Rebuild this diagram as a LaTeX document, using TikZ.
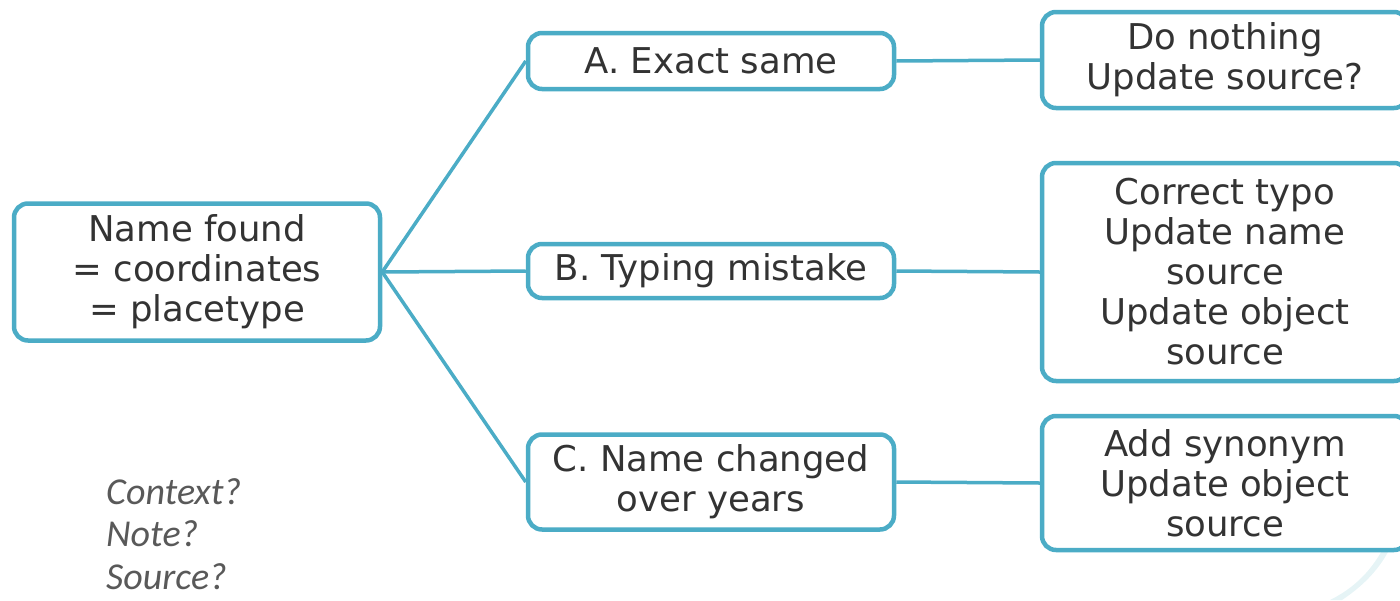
\documentclass[tikz,border=0pt]{standalone}
\usepackage{fontspec}
\setmainfont{DejaVu Sans}
\newfontfamily\notefont{Carlito}
\definecolor{boxblue}{HTML}{4BACC6}
\definecolor{txtgray}{HTML}{333333}
\definecolor{notegray}{HTML}{595959}
\definecolor{swoosh}{HTML}{E6F4F6}
\begin{document}
\begin{tikzpicture}[x=1pt,y=-1pt,
  box/.style={draw=boxblue, line width=4.5pt, rounded corners=14pt, fill=white,
    text=txtgray, align=center, inner sep=0pt, minimum width=366pt,
    font=\fontsize{35.5}{40}\selectfont},
  link/.style={draw=boxblue, line width=3.5pt}]
\useasboundingbox (0,0) rectangle (1400,600);
% faint background swoosh
\fill[swoosh] (1400,505) .. controls (1385,560) and (1360,585) .. (1330,600) -- (1342,600) .. controls (1372,580) and (1392,555) .. (1400,520) -- cycle;
% nodes
\node[box, minimum height=137pt] (root) at (197,272) {Name found\\= coordinates\\= placetype};
\node[box, minimum height=56pt] (A) at (711,61) {A. Exact same};
\node[box, minimum height=54pt] (B) at (711,271) {B. Typing mistake};
\node[box, minimum height=95pt] (C) at (711,482) {C. Name changed\\over years};
\node[box, minimum height=96pt] (RA) at (1225,60) {Do nothing\\Update source?};
\node[box, minimum height=218pt] (RB) at (1225,272) {Correct typo\\Update name\\source\\Update object\\source};
\node[box, minimum height=134pt] (RC) at (1225,483) {Add synonym\\Update object\\source};
% connectors
\draw[link] (root.east) -- (A.west);
\draw[link] (root.east) -- (B.west);
\draw[link] (root.east) -- (C.west);
\draw[link] (A.east) -- (RA.west);
\draw[link] (B.east) -- (RB.west);
\draw[link] (C.east) -- (RC.west);
% notes
\node[anchor=base west, align=left, text=notegray, inner sep=0pt,
  font=\notefont\itshape\fontsize{38}{42.5}\selectfont] (notes) at (106,589) {Context?\\Note?\\Source?};
\end{tikzpicture}
\end{document}
